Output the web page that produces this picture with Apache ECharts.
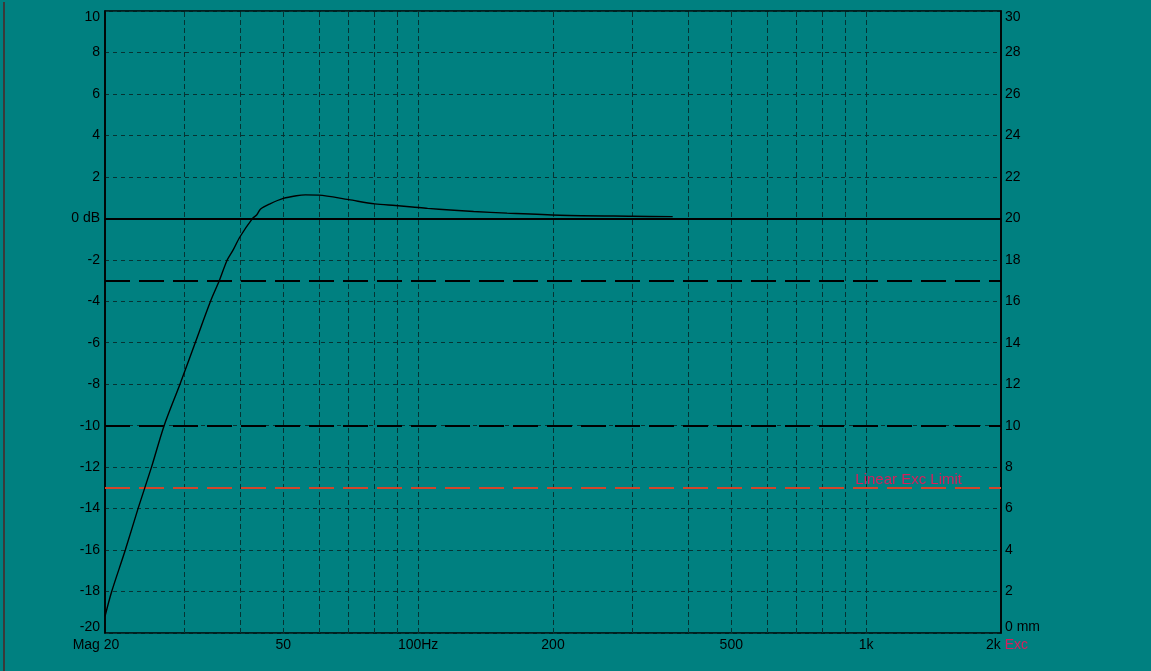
<!DOCTYPE html>
<html>
<head>
<meta charset="utf-8">
<script src="https://cdn.jsdelivr.net/npm/echarts@6/dist/echarts.min.js"></script>
<style>html,body{margin:0;padding:0;background:#008080;}#c{width:1151px;height:671px;}</style>
</head>
<body>
<div id="c"></div>
<script>
// Frequency response
var freqHz = [20, 20.7, 22.2, 23.7, 25.4, 27.1, 29.4, 31.8, 34.4, 36.0, 37.5, 38.7, 40.0, 42.7, 43.6, 44.5, 46.7, 50, 53.5, 56, 60, 70, 80, 89, 97, 105, 118, 133, 158, 207, 300, 370];
var magDb  = [-19.2, -18, -16, -14, -12, -10, -8, -6, -4, -3, -2, -1.5, -0.9, 0, 0.16, 0.45, 0.7, 0.96, 1.09, 1.13, 1.12, 0.9, 0.7, 0.62, 0.55, 0.48, 0.4, 0.33, 0.25, 0.15, 0.1, 0.08];
// Vertical grid frequencies
var gridFreqs = [30, 40, 50, 60, 70, 80, 90, 100, 200, 300, 400, 500, 600, 700, 800, 900, 1000];
// X tick labels
var xTickValues = [20, 50, 100, 200, 500, 1000, 2000];
var xTickLabels = ['Mag 20', '50', '100Hz', '200', '500', '1k', '2k Exc'];
// Reference lines (dB)
var dashedRefDb = [-3, -10];
var excLimitDb = -13;
var excLimitLabel = 'Linear Exc Limit';

var chart = echarts.init(document.getElementById('c'), null, {renderer: 'canvas'});
var font = 'Liberation Sans, Arial, sans-serif';
var curve = freqHz.map(function (f, i) { return [f, magDb[i]]; });

var option = {
  backgroundColor: '#008080',
  animation: false,
  textStyle: {fontFamily: font},
  graphic: [{
    type: 'rect', shape: {x: 3, y: 2, width: 2, height: 669},
    style: {fill: '#3a3a3a'}, silent: true
  }],
  grid: {left: 105, right: 150, top: 11, bottom: 38, show: true, borderColor: '#000', borderWidth: 1.5, backgroundColor: 'transparent'},
  xAxis: {
    type: 'log', logBase: 10, min: 20, max: 2000,
    axisLine: {show: true, lineStyle: {color: '#000', width: 1.5}},
    axisTick: {show: false},
    splitLine: {show: false},
    minorTick: {show: false},
    axisLabel: {
      show: true, customValues: xTickValues, margin: 5,
      color: '#000', fontSize: 14, fontFamily: font,
      formatter: function (v) {
        var i = xTickValues.indexOf(Math.round(v));
        if (i < 0) return '';
        var t = xTickLabels[i];
        if (i === 0) return '{mag|' + t + '}';
        if (i === xTickValues.length - 1) return '{k|2k }{exc|Exc}';
        return t;
      },
      rich: {
        mag: {fontSize: 14, color: '#000', fontFamily: font, padding: [0, 18, 0, 0]},
        k: {fontSize: 14, color: '#000', fontFamily: font, padding: [0, 0, 0, 12]},
        exc: {fontSize: 14, color: '#d81e5b', fontFamily: font}
      }
    }
  },
  yAxis: [{
    type: 'value', min: -20, max: 10, interval: 2, position: 'left',
    axisLine: {show: true, lineStyle: {color: '#000', width: 1.5}},
    axisTick: {show: false},
    splitLine: {show: true, lineStyle: {color: '#063333', width: 1, type: [4, 4]}},
    axisLabel: {
      margin: 5, color: '#000', fontSize: 14, fontFamily: font,
      formatter: function (v) {
        if (v === 0) return '0 dB';
        if (v === -20) return '{lo|-20}';
        if (v === 10) return '{hi|10}';
        return String(v);
      },
      rich: {
        lo: {fontSize: 14, color: '#000', fontFamily: font, padding: [0, 0, 12, 0]},
        hi: {fontSize: 14, color: '#000', fontFamily: font, padding: [13, 0, 0, 0]}
      }
    }
  }, {
    type: 'value', min: 0, max: 30, interval: 2, position: 'right',
    axisLine: {show: true, lineStyle: {color: '#000', width: 1.5}},
    axisTick: {show: false},
    splitLine: {show: false},
    axisLabel: {
      margin: 4, color: '#000', fontSize: 14, fontFamily: font,
      formatter: function (v) {
        if (v === 0) return '{lo|0 mm}';
        if (v === 30) return '{hi|30}';
        return String(v);
      },
      rich: {
        lo: {fontSize: 14, color: '#000', fontFamily: font, padding: [0, 0, 12, 0]},
        hi: {fontSize: 14, color: '#000', fontFamily: font, padding: [13, 0, 0, 0]}
      }
    }
  }],
  series: [{
    name: 'grid', type: 'line', data: [], silent: true,
    markLine: {
      silent: true, symbol: 'none', animation: false,
      label: {show: false},
      lineStyle: {color: '#063333', width: 1, type: [5, 3]},
      data: gridFreqs.map(function (f) { return {xAxis: f}; })
    }
  }, {
    name: 'refs', type: 'line', data: [], silent: true,
    markLine: {
      silent: true, symbol: 'none', animation: false,
      data: [
        {yAxis: 0, label: {show: false}, lineStyle: {color: '#000', width: 2, type: 'solid'}}
      ].concat(dashedRefDb.map(function (d) {
        return {yAxis: d, label: {show: false}, lineStyle: {color: '#000', width: 2, type: [25, 9]}};
      })).concat([{
        yAxis: excLimitDb,
        lineStyle: {color: '#d2452a', width: 2, type: [25, 9]},
        label: {show: true, position: 'insideEndTop', formatter: excLimitLabel, color: '#d81e5b', fontSize: 15, fontFamily: font, distance: 1, padding: [0, 38, 0, 0]}
      }])
    }
  }, {
    name: 'Mag', type: 'line', data: curve, showSymbol: false, smooth: 0.3,
    lineStyle: {color: '#000', width: 1.4}, z: 5
  }]
};
chart.setOption(option);
</script>
</body>
</html>
